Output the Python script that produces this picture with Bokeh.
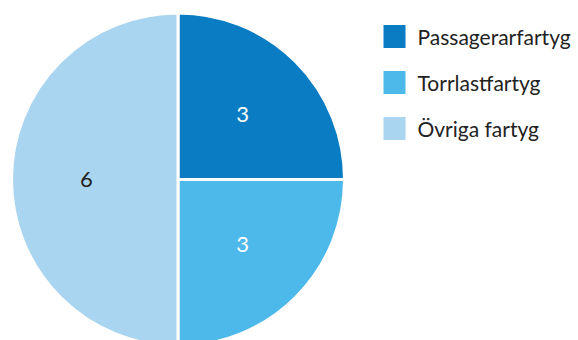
import numpy as np
from bokeh.plotting import figure
from bokeh.models import Range1d, ColumnDataSource
from bokeh.core.properties import value
from bokeh.embed import file_html
from bokeh.resources import INLINE

categories = ["Passagerarfartyg", "Torrlastfartyg", "Övriga fartyg"]
counts = [3, 3, 6]
colors = ["#0a7cc4", "#4db9ea", "#a9d5f0"]
label_colors = ["#ffffff", "#ffffff", "#222222"]

W, H = 578, 340
p = figure(width=W, height=H, output_backend="svg", toolbar_location=None,
           x_range=Range1d(0, W), y_range=Range1d(0, H), min_border=0)
p.axis.visible = False
p.grid.visible = False
p.outline_line_color = None
p.background_fill_color = "white"

cx, cy, R = 177.5, H - 179, 166.5
total = sum(counts)
fr = np.array(counts) / total
ends = np.pi / 2 - 2 * np.pi * np.cumsum(fr)
starts = np.concatenate([[np.pi / 2], ends[:-1]])
mids = (starts + ends) / 2

src = ColumnDataSource(dict(start=starts, end=ends, color=colors,
                            lx=cx + 0.55 * R * np.cos(mids),
                            ly=cy + 0.55 * R * np.sin(mids),
                            lab=[str(c) for c in counts], lc=label_colors))
p.wedge(x=cx, y=cy, radius=R, start_angle="start", end_angle="end",
        direction="clock", fill_color="color", line_color="white",
        line_width=3, source=src)
p.text(x="lx", y="ly", text="lab", text_color="lc", source=src,
       text_align="center", text_baseline="middle",
       text_font=value("Lato"), text_font_size="22px")

# legend
idx = np.arange(len(categories))
leg = ColumnDataSource(dict(x=[394] * len(categories), y=H - (36 + 46 * idx),
                            tx=[417] * len(categories), cat=categories, color=colors))
p.rect(x="x", y="y", width=22, height=23, fill_color="color", line_color=None, source=leg)
p.text(x="tx", y="y", text="cat", source=leg, text_color="#222222",
       text_baseline="middle", text_font=value("Lato"), text_font_size="21px")

open("out.html", "w").write(file_html(p, INLINE))
